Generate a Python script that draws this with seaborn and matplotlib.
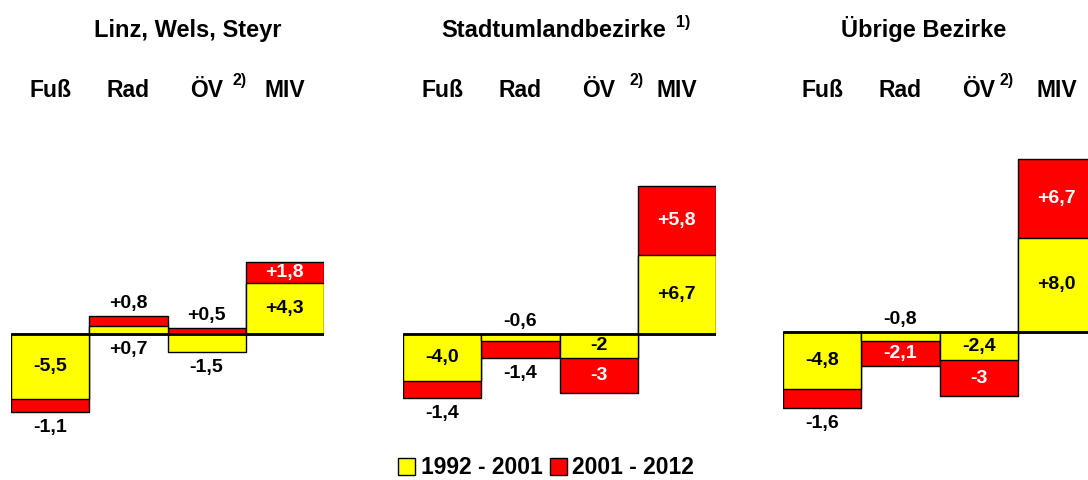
import matplotlib
matplotlib.use("Agg")
import matplotlib.pyplot as plt
import matplotlib.patches as mpatches
import seaborn as sns
import pandas as pd

sns.set_theme(style="white")
plt.rcParams['font.family'] = ['Liberation Sans', 'DejaVu Sans']
plt.rcParams['text.color'] = 'black'

# ---- data ----
panels = ["Linz, Wels, Steyr", "Stadtumlandbezirke", "Übrige Bezirke"]
panel_notes = ["", "1)", ""]
categories = ["Fuß", "Rad", "ÖV", "MIV"]
series_names = ["1992 - 2001", "2001 - 2012"]
p1_9201 = [-5.5, 0.7, -1.5, 4.3]
p1_0112 = [-1.1, 0.8, 0.5, 1.8]
p2_9201 = [-4.0, -0.6, -2.0, 6.7]
p2_0112 = [-1.4, -1.4, -3.0, 5.8]
p3_9201 = [-4.8, -0.8, -2.4, 8.0]
p3_0112 = [-1.6, -2.1, -3.0, 6.7]
p1_lab_9201 = ["-5,5", "+0,7", "-1,5", "+4,3"]
p1_lab_0112 = ["-1,1", "+0,8", "+0,5", "+1,8"]
p2_lab_9201 = ["-4,0", "-0,6", "-2", "+6,7"]
p2_lab_0112 = ["-1,4", "-1,4", "-3", "+5,8"]
p3_lab_9201 = ["-4,8", "-0,8", "-2,4", "+8,0"]
p3_lab_0112 = ["-1,6", "-2,1", "-3", "+6,7"]

yellow_vals = [p1_9201, p2_9201, p3_9201]
red_vals = [p1_0112, p2_0112, p3_0112]
yellow_labs = [p1_lab_9201, p2_lab_9201, p3_lab_9201]
red_labs = [p1_lab_0112, p2_lab_0112, p3_lab_0112]

YELLOW = "#FFFF00"
RED = "#FF0000"

W, H = 1088, 480
fig = plt.figure(figsize=(W / 100, H / 100), dpi=100)

px_per_unit = 11.8
ax_top_px, ax_bot_px = 100, 440
zero_px = [334, 334, 332]
left_px = [11, 403, 783]
width_px = 313
title_x_px = [188, 554, 924]
sup_off_px = [33, 38, 28]

inside_thr = 1.7
off_pos = 1.1
off_neg = 1.35
fs_lab = 14
fs_cat = 16.5
fs_title = 17
fs_sup = 11.5

for k in range(3):
    ax = fig.add_axes([left_px[k] / W, 1 - ax_bot_px / H, width_px / W, (ax_bot_px - ax_top_px) / H])
    y = yellow_vals[k]
    r = red_vals[k]
    same = [(a >= 0) == (b >= 0) for a, b in zip(y, r)]
    red_end = [a + b if s else b for a, b, s in zip(y, r, same)]
    df = pd.DataFrame({"cat": categories, "yellow": y, "red_end": red_end})
    sns.barplot(data=df, x="cat", y="red_end", order=categories, color=RED, saturation=1,
                width=1.0, edgecolor="black", linewidth=1.0, ax=ax)
    sns.barplot(data=df, x="cat", y="yellow", order=categories, color=YELLOW, saturation=1,
                width=1.0, edgecolor="black", linewidth=1.0, ax=ax)
    ax.axhline(0, color="black", lw=2.0, zorder=5)
    below = (ax_bot_px - zero_px[k]) / px_per_unit
    above = (zero_px[k] - ax_top_px) / px_per_unit
    ax.set_ylim(-below, above)
    ax.set_xlim(-0.5, 3.5)
    ax.set_axis_off()

    def outside(v):
        return off_pos if v >= 0 else -off_neg

    for i in range(4):
        yv, rv = y[i], r[i]
        # yellow label
        if abs(yv) >= inside_thr:
            ax.text(i, yv / 2, yellow_labs[k][i], ha="center", va="center", fontsize=fs_lab,
                    fontweight="bold", color="black", zorder=6)
        else:
            if same[i]:
                ypos = outside(-yv) if yv != 0 else 0
            else:
                ypos = yv + outside(yv)
            ax.text(i, ypos, yellow_labs[k][i], ha="center", va="center", fontsize=fs_lab,
                    fontweight="bold", color="black", zorder=6)
        # red label
        start = yv if same[i] else 0
        end = red_end[i]
        if abs(rv) >= inside_thr:
            ax.text(i, (start + end) / 2, red_labs[k][i], ha="center", va="center",
                    fontsize=fs_lab, fontweight="bold", color="white", zorder=6)
        else:
            ax.text(i, end + outside(end), red_labs[k][i], ha="center", va="center",
                    fontsize=fs_lab, fontweight="bold", color="black", zorder=6)

    # category labels
    for i, c in enumerate(categories):
        cx = left_px[k] + width_px * (i + 0.5) / 4
        fig.text(cx / W, 1 - 97 / H, c, ha="center", va="baseline", fontsize=fs_cat,
                 fontweight="bold")
        if c == "ÖV":
            fig.text((cx + sup_off_px[k]) / W, 1 - 85 / H, "2)", ha="center", va="baseline",
                     fontsize=fs_sup, fontweight="bold")
    fig.text(title_x_px[k] / W, 1 - 37 / H, panels[k], ha="center", va="baseline",
             fontsize=fs_title, fontweight="bold")
    if panel_notes[k]:
        fig.text((title_x_px[k] + 129) / W, 1 - 27 / H, panel_notes[k], ha="center",
                 va="baseline", fontsize=fs_sup, fontweight="bold")

handles = [mpatches.Patch(facecolor=YELLOW, edgecolor="black", linewidth=1.0, label=series_names[0]),
           mpatches.Patch(facecolor=RED, edgecolor="black", linewidth=1.0, label=series_names[1])]
leg = fig.legend(handles=handles, loc="center", bbox_to_anchor=(0.502, 1 - 468 / H), ncol=2,
                 frameon=False, handlelength=0.75, handleheight=0.75, handletextpad=0.25,
                 columnspacing=0.3, prop={"weight": "bold", "size": 16.5})

fig.savefig("out.png", dpi=100)
